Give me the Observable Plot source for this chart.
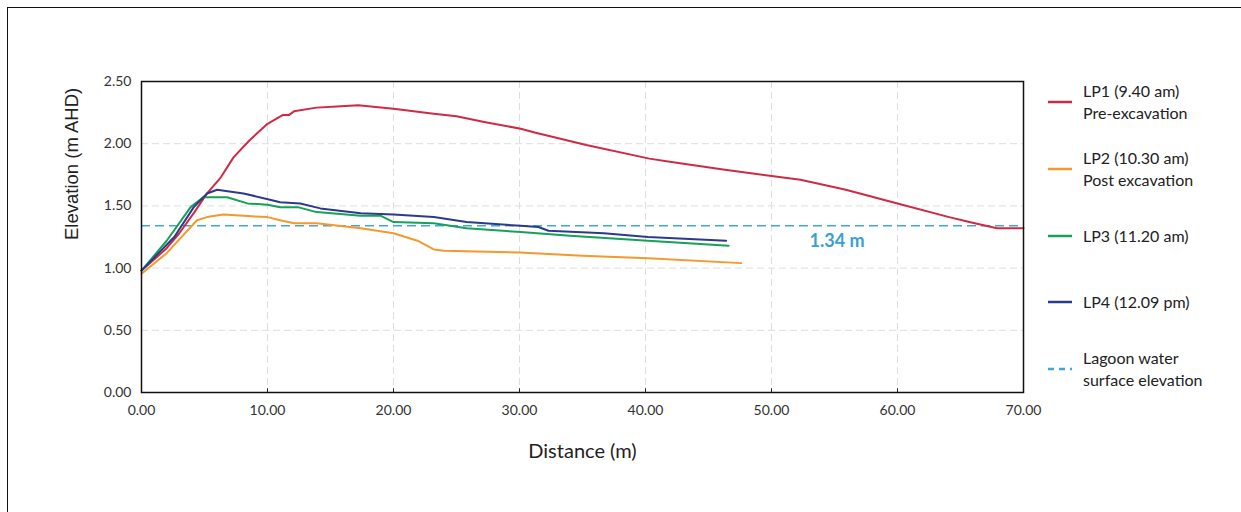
<!DOCTYPE html>
<html>
<head>
<meta charset="utf-8">
<script src="https://cdn.jsdelivr.net/npm/d3@7"></script>
<script src="https://cdn.jsdelivr.net/npm/@observablehq/plot@0.6"></script>
<style>
  body { margin: 0; background: #fff; overflow: hidden; }
  #wrap { position: relative; width: 1241px; height: 512px; overflow: hidden; background: #fff; }
  #border { position: absolute; left: 7px; top: 7px; width: 1400px; height: 700px; border-left: 1.5px solid #111; border-top: 1.5px solid #111; }
  #chart { position: absolute; left: 0; top: 0; }
  .legend { position: absolute; left: 0; top: 0; width: 1241px; height: 512px; font-family: Lato, sans-serif; font-size: 16px; color: #222; }
  .item { position: absolute; left: 1048px; display: flex; align-items: center; white-space: nowrap; }
  .item svg { flex: none; margin-right: 11px; }
  .item .lbl { line-height: 22px; }
</style>
</head>
<body>
<div id="wrap">
  <div id="border"></div>
  <div id="chart"></div>
  <div class="legend" id="legend"></div>
</div>
<script>
// Beach profile surveys: distance along transect (m) vs elevation (m AHD)
const lp1Dist = [0, 1.0, 2.0, 3.0, 4.2, 5.2, 6.3, 7.3, 8.6, 10.0, 11.2, 11.7, 12.1, 13.9, 15.5, 17.2, 20.0, 23.2, 25.0, 27.2, 30.1, 31.2, 35.3, 40.3, 42.2, 46.3, 52.3, 55.9, 60.0, 64.1, 65.7, 67.9, 70.0];
const lp1Elev = [0.98, 1.07, 1.16, 1.28, 1.45, 1.60, 1.73, 1.89, 2.03, 2.16, 2.23, 2.23, 2.26, 2.29, 2.30, 2.31, 2.28, 2.24, 2.22, 2.175, 2.12, 2.09, 1.99, 1.88, 1.85, 1.79, 1.71, 1.63, 1.52, 1.41, 1.37, 1.32, 1.32];

const lp2Dist = [0, 2.0, 4.4, 5.2, 6.5, 8.1, 10.0, 11.0, 12.1, 13.9, 17.4, 20.0, 21.9, 23.2, 24.0, 30.0, 35.0, 40.2, 47.6];
const lp2Elev = [0.955, 1.12, 1.385, 1.41, 1.43, 1.42, 1.41, 1.385, 1.36, 1.36, 1.32, 1.28, 1.22, 1.15, 1.14, 1.125, 1.10, 1.08, 1.04];

const lp3Dist = [0, 2.0, 3.9, 4.9, 5.5, 6.8, 8.4, 10.0, 11.0, 12.4, 13.9, 17.4, 19.0, 20.0, 23.2, 25.8, 30.1, 34.0, 40.2, 46.6];
const lp3Elev = [0.98, 1.22, 1.49, 1.57, 1.57, 1.57, 1.52, 1.51, 1.49, 1.49, 1.45, 1.42, 1.42, 1.37, 1.36, 1.32, 1.29, 1.26, 1.22, 1.18];

const lp4Dist = [0, 2.6, 4.15, 5.2, 6.0, 8.1, 10.2, 11.0, 12.6, 14.2, 17.4, 20.0, 23.2, 25.8, 30.1, 31.5, 32.3, 36.7, 40.2, 46.4];
const lp4Elev = [0.98, 1.25, 1.49, 1.60, 1.63, 1.60, 1.55, 1.53, 1.52, 1.48, 1.44, 1.43, 1.41, 1.37, 1.34, 1.33, 1.30, 1.28, 1.25, 1.22];

const lagoonLevel = 1.34;
const lagoonLabel = "1.34 m";

const xTicks = [0, 10, 20, 30, 40, 50, 60, 70];
const yTicks = [0, 0.5, 1.0, 1.5, 2.0, 2.5];

const seriesNames = [["LP1 (9.40 am)", "Pre-excavation"], ["LP2 (10.30 am)", "Post excavation"], ["LP3 (11.20 am)"], ["LP4 (12.09 pm)"]];
const lagoonName = ["Lagoon water", "surface elevation"];
const seriesColors = ["#cf2a45", "#f5992c", "#17a057", "#2b3a8c"];
const lagoonColor = "#3fa8d6";

const toRows = (ds, es) => ds.map((d, i) => ({d, e: es[i]}));
const series = [toRows(lp1Dist, lp1Elev), toRows(lp2Dist, lp2Elev), toRows(lp3Dist, lp3Elev), toRows(lp4Dist, lp4Elev)];

const fmt = d3.format(".2f");
const chart = Plot.plot({
  width: 1241,
  height: 512,
  marginLeft: 141,
  marginRight: 218,
  marginTop: 81,
  marginBottom: 120,
  style: {fontFamily: "Lato, sans-serif", fontSize: "14px", color: "#333", background: "transparent"},
  x: {domain: [0, 70]},
  y: {domain: [0, 2.5]},
  marks: [
    Plot.gridX(xTicks.slice(1, -1), {stroke: "#dedede", strokeOpacity: 1, strokeDasharray: "7,4"}),
    Plot.gridY(yTicks.slice(1, -1), {stroke: "#dedede", strokeOpacity: 1, strokeDasharray: "7,4"}),
    Plot.ruleX(xTicks.slice(1, -1), {y1: 0, y2: 0.03, stroke: "#222"}),
    Plot.axisX(xTicks, {tickSize: 0, tickPadding: 13, tickFormat: fmt, label: null}),
    Plot.axisY(yTicks, {tickSize: 0, tickPadding: 10, tickFormat: fmt, label: null}),
    Plot.ruleY([lagoonLevel], {stroke: lagoonColor, strokeWidth: 1.5, strokeDasharray: "9,5"}),
    ...series.map((rows, i) => Plot.line(rows, {x: "d", y: "e", stroke: seriesColors[i], strokeWidth: 2, curve: "linear"})),
    Plot.text([lagoonLabel], {x: 55.2, y: lagoonLevel, text: d => d, dy: 15, fill: "#3a9fd2", fontWeight: "bold", fontSize: 18}),
    Plot.frame({stroke: "#111", strokeWidth: 1.5}),
    Plot.text(["Distance (m)"], {frameAnchor: "bottom", dy: 65, text: d => d, fontSize: 20, fill: "#222"}),
    Plot.text(["Elevation (m AHD)"], {frameAnchor: "left", dx: -69, dy: 3, rotate: -90, text: d => d, fontSize: 18.5, fontFamily: "Liberation Sans, Arial, sans-serif", fill: "#222"})
  ]
});
document.getElementById("chart").appendChild(chart);

// Legend to the right of the plot frame
const legend = document.getElementById("legend");
const legendY = [102, 169, 236, 302, 369];
const entries = seriesNames.map((n, i) => ({lines: n, color: seriesColors[i], dash: null}))
  .concat([{lines: lagoonName, color: lagoonColor, dash: "6,5"}]);
entries.forEach((en, i) => {
  const item = document.createElement("div");
  item.className = "item";
  const h = en.lines.length * 22;
  item.style.top = (legendY[i] - h / 2) + "px";
  item.innerHTML = `<svg width="24" height="6"><line x1="0" x2="24" y1="3" y2="3" stroke="${en.color}" stroke-width="2.5" ${en.dash ? `stroke-dasharray="${en.dash}"` : ""}/></svg>` +
    `<div class="lbl">${en.lines.join("<br>")}</div>`;
  legend.appendChild(item);
});
</script>
</body>
</html>
